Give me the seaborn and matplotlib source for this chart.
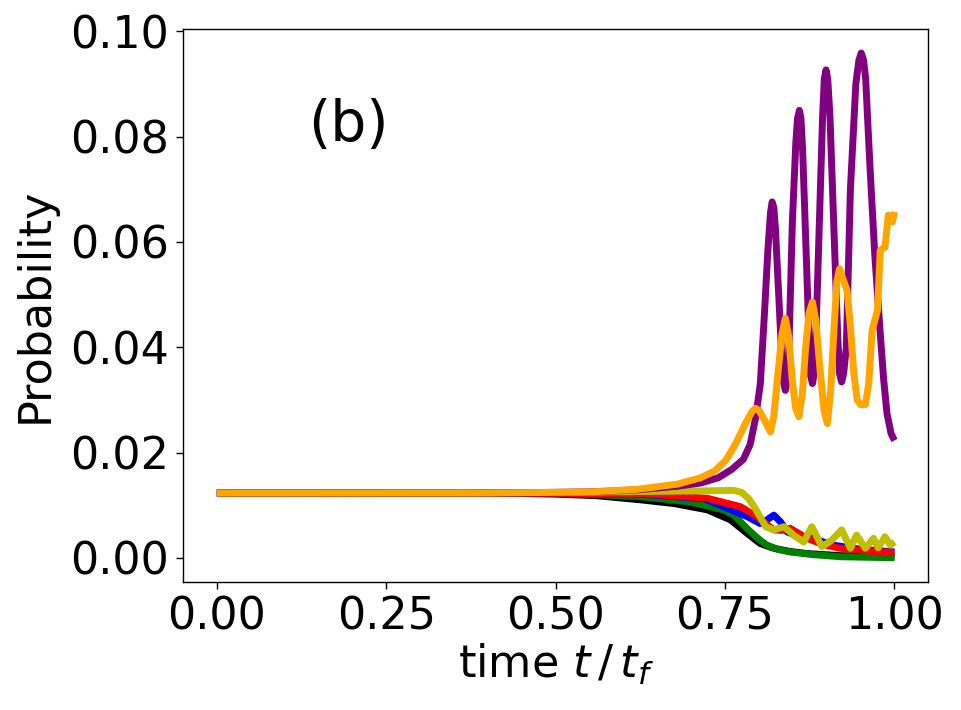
import numpy as np
import pandas as pd
import matplotlib
matplotlib.use("Agg")
import matplotlib.pyplot as plt
import seaborn as sns

# ---- data ----
black_t = [0.0, 0.40, 0.50, 0.56, 0.626, 0.675, 0.724, 0.758, 0.783, 0.802, 0.822, 0.846, 0.871, 0.92, 1.0]
black_p = [0.0123, 0.0123, 0.0121, 0.0118, 0.0110, 0.0103, 0.0091, 0.0072, 0.0046, 0.0027, 0.0018, 0.0012, 0.0008, 0.0004, 0.0002]

green_t = [0.0, 0.40, 0.50, 0.56, 0.626, 0.699, 0.748, 0.763, 0.773, 0.783, 0.793, 0.803, 0.812, 0.828, 0.846, 0.88, 0.92, 1.0]
green_p = [0.0123, 0.0123, 0.0122, 0.0120, 0.0116, 0.0106, 0.0091, 0.0081, 0.0068, 0.0055, 0.0043, 0.0032, 0.0024, 0.0016, 0.0011, 0.0006, 0.0002, 0.0000]

blue_t = [0.0, 0.45, 0.55, 0.626, 0.72, 0.748, 0.783, 0.802, 0.812, 0.822, 0.832, 0.842, 0.861, 0.881, 0.905, 0.95, 1.0]
blue_p = [0.0123, 0.0123, 0.0122, 0.0121, 0.0112, 0.0097, 0.0078, 0.0065, 0.0072, 0.0081, 0.0068, 0.0049, 0.0040, 0.0037, 0.0025, 0.0016, 0.0011]

red_t = [0.0, 0.45, 0.55, 0.626, 0.724, 0.773, 0.797, 0.822, 0.834, 0.846, 0.871, 0.895, 0.92, 0.96, 1.0]
red_p = [0.0123, 0.0123, 0.0122, 0.0122, 0.0113, 0.0097, 0.0078, 0.0053, 0.0052, 0.0056, 0.0037, 0.0025, 0.0018, 0.0013, 0.0010]

olive_t = [0.0, 0.50, 0.626, 0.714, 0.763, 0.775, 0.785, 0.793, 0.802, 0.810, 0.822, 0.837, 0.851, 0.866, 0.878,
           0.893, 0.908, 0.922, 0.935, 0.944, 0.957, 0.969, 0.976, 0.986, 0.994, 1.0]
olive_p = [0.0123, 0.0124, 0.0126, 0.0127, 0.0128, 0.0124, 0.0112, 0.0097, 0.0077, 0.0059, 0.0053, 0.0059, 0.0043, 0.0030, 0.0059,
           0.0021, 0.0034, 0.0053, 0.0018, 0.0043, 0.0018, 0.0037, 0.0019, 0.0040, 0.0024, 0.0030]

purple_t = [0.0, 0.40, 0.55, 0.62, 0.68, 0.714, 0.74, 0.76, 0.777, 0.787, 0.795, 0.802, 0.808, 0.813, 0.817, 0.8195, 0.822,
            0.8244, 0.8293, 0.8341, 0.8365, 0.839, 0.8415, 0.8442, 0.8494, 0.8545, 0.857, 0.8597, 0.862, 0.8645, 0.8694,
            0.8742, 0.8765, 0.879, 0.8815, 0.884, 0.889, 0.894, 0.8965, 0.899, 0.9015, 0.9048, 0.9105, 0.9163, 0.919,
            0.922, 0.925, 0.929, 0.935, 0.943, 0.9475, 0.951, 0.9545, 0.9575, 0.964, 0.971, 0.979, 0.984, 0.989, 0.995, 1.0]
purple_p = [0.0123, 0.0123, 0.0125, 0.0129, 0.0136, 0.0142, 0.0152, 0.0168, 0.0187, 0.0215, 0.0265, 0.0330, 0.0460, 0.0580, 0.0655, 0.0676, 0.0665,
            0.0624, 0.0497, 0.0370, 0.0332, 0.0318, 0.0335, 0.0396, 0.0640, 0.0790, 0.0835, 0.0850, 0.0835, 0.0774, 0.0591,
            0.0407, 0.0345, 0.0331, 0.0350, 0.0418, 0.0629, 0.0840, 0.0910, 0.0927, 0.0910, 0.0840, 0.0631, 0.0421, 0.0350,
            0.0334, 0.0350, 0.0400, 0.0700, 0.0900, 0.0945, 0.0959, 0.0945, 0.0910, 0.0740, 0.0575, 0.0427, 0.0340, 0.0274, 0.0236, 0.0223]

orange_t = [0.0, 0.40, 0.55, 0.62, 0.68, 0.714, 0.735, 0.751, 0.765, 0.78, 0.79, 0.795, 0.800, 0.808, 0.817,
            0.822, 0.828, 0.834, 0.839, 0.844, 0.849, 0.854, 0.859, 0.864, 0.869, 0.874, 0.879,
            0.884, 0.890, 0.896, 0.901, 0.906, 0.911, 0.915, 0.919, 0.924, 0.930, 0.935, 0.940,
            0.945, 0.950, 0.957, 0.962, 0.967, 0.975, 0.979, 0.986, 0.991, 0.997, 1.0]
orange_p = [0.0123, 0.0123, 0.0125, 0.0130, 0.0140, 0.0152, 0.0165, 0.0185, 0.0215, 0.0255, 0.0278, 0.0284, 0.0280, 0.0262, 0.0239,
            0.0270, 0.0350, 0.0425, 0.0455, 0.0420, 0.0340, 0.0285, 0.0268, 0.0310, 0.0400, 0.0465, 0.0486,
            0.0450, 0.0360, 0.0280, 0.0255, 0.0320, 0.0440, 0.0525, 0.0549, 0.0530, 0.0508, 0.0440, 0.0350,
            0.0300, 0.0291, 0.0291, 0.0330, 0.0432, 0.0470, 0.0584, 0.0590, 0.0651, 0.0638, 0.0657]

series_names = ["black", "green", "blue", "red", "olive", "purple", "orange"]
series_t = [black_t, green_t, blue_t, red_t, olive_t, purple_t, orange_t]
series_p = [black_p, green_p, blue_p, red_p, olive_p, purple_p, orange_p]
colors = {"black": "#000000", "green": "#008000", "blue": "#0000ff", "red": "#ff0000",
          "olive": "#bfbf00", "purple": "#800080", "orange": "#ffa500"}

frames = [pd.DataFrame({"t": t, "p": p, "series": n}) for n, t, p in zip(series_names, series_t, series_p)]
df = pd.concat(frames, ignore_index=True)

# ---- plotting ----
sns.set_theme(style="ticks")
plt.rcParams["font.family"] = ["DejaVu Sans"]
plt.rcParams["mathtext.fontset"] = "dejavusans"
plt.rcParams["text.color"] = "black"
plt.rcParams["axes.labelcolor"] = "black"

fig = plt.figure(figsize=(9.61, 7.10), dpi=100)
ax = fig.add_axes([0.1904, 0.1803, 0.966 - 0.1904, 0.9587 - 0.1803])

for name in series_names:
    sub = df[df["series"] == name]
    sns.lineplot(data=sub, x="t", y="p", color=colors[name], linewidth=5,
                 estimator=None, sort=False, legend=False, ax=ax,
                 solid_joinstyle="round", solid_capstyle="butt")

ax.set_xlim(-0.05, 1.05)
ax.set_ylim(-0.0046, 0.1004)
ax.set_xticks([0.0, 0.25, 0.5, 0.75, 1.0])
ax.set_xticklabels(["0.00", "0.25", "0.50", "0.75", "1.00"])
ax.set_yticks([0.0, 0.02, 0.04, 0.06, 0.08, 0.10])
ax.set_yticklabels(["0.00", "0.02", "0.04", "0.06", "0.08", "0.10"])
ax.tick_params(axis="both", labelsize=32, length=5, width=1.0, direction="out", colors="black", pad=5)
for s in ax.spines.values():
    s.set_visible(True)
    s.set_color("black")
    s.set_linewidth(1.0)

ax.set_xlabel(r"time $t\,/\,t_f$", fontsize=32, labelpad=2, color="black")
ax.set_ylabel("Probability", fontsize=32, labelpad=10, color="black")
ax.text(0.135, 0.0792, "(b)", fontsize=41, color="black")

fig.savefig("out.png", dpi=100)
